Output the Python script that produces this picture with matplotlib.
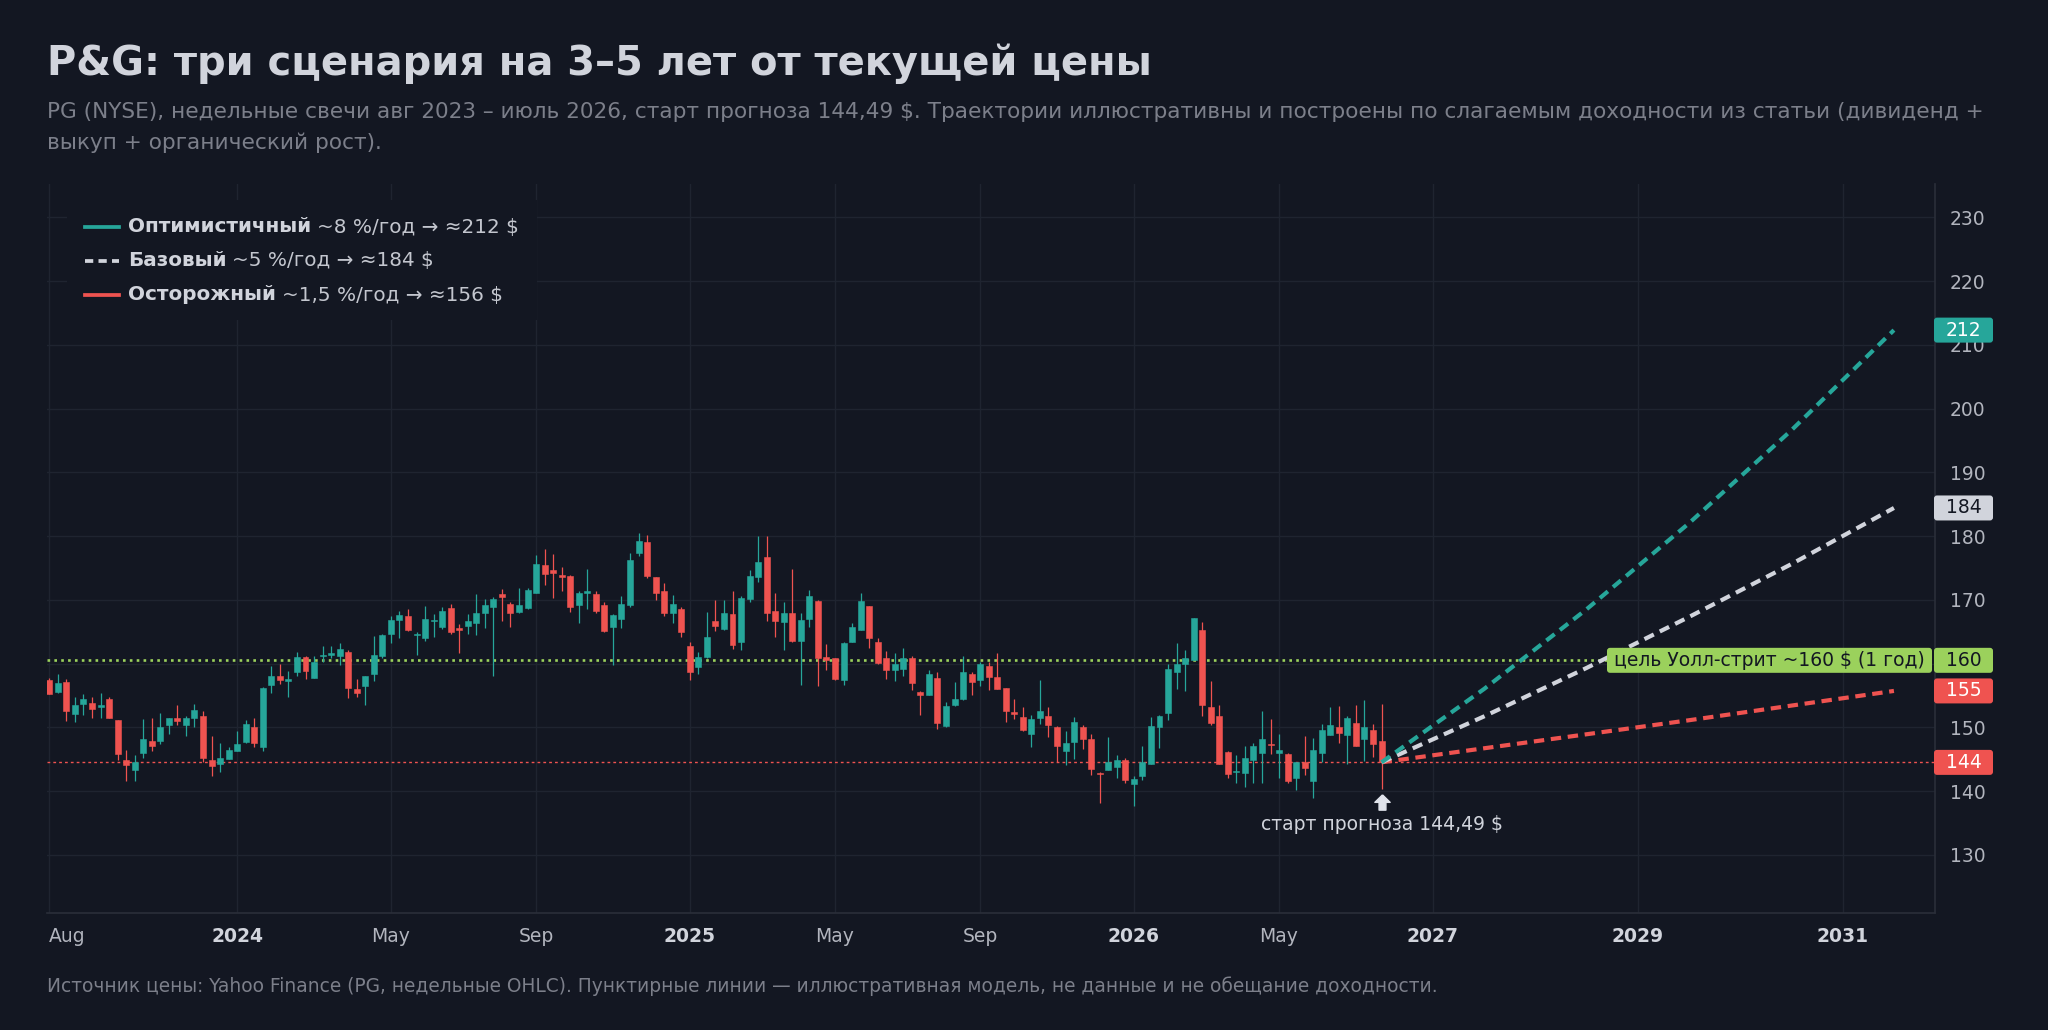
import matplotlib
matplotlib.use("Agg")
import matplotlib.pyplot as plt
import numpy as np
import pandas as pd
from matplotlib.patches import FancyBboxPatch, Rectangle
from matplotlib.transforms import IdentityTransform
from matplotlib.lines import Line2D

plt.rcParams['font.family'] = ['DejaVu Sans']

# ---------------- data ----------------
start_date = '2023-07-31'          # first weekly candle (Monday)
open_ = [157.4, 155.6, 157.1, 152.1, 153.7, 153.8, 153.2, 154.4, 151.2, 144.8,
         143.3, 145.9, 147.9, 147.9, 150.3, 151.5, 150.3, 151.5, 151.8, 144.8,
         144.2, 145.0, 146.3, 147.7, 150.1, 146.9, 156.6, 158.1, 157.3, 158.7,
         161.0, 157.7, 161.2, 161.4, 161.1, 161.8, 156.0, 156.4, 158.4, 161.1,
         164.7, 166.8, 167.5, 164.4, 164.0, 166.6, 165.8, 168.7, 165.6, 165.9,
         166.4, 167.9, 168.9, 170.9, 169.3, 168.1, 168.7, 171.0, 175.5, 174.6,
         173.9, 173.7, 169.1, 171.0, 170.9, 169.2, 165.7, 167.0, 169.1, 177.4,
         179.0, 173.6, 171.4, 168.0, 168.6, 162.8, 159.4, 161.0, 166.7, 165.4,
         167.7, 163.3, 170.1, 173.5, 176.7, 168.3, 166.5, 168.0, 163.6, 167.0,
         169.8, 161.0, 160.8, 157.4, 163.4, 165.2, 169.0, 163.4, 160.8, 159.0,
         159.2, 160.9, 155.6, 155.1, 157.7, 150.2, 153.5, 154.4, 158.4, 157.4,
         159.6, 157.9, 156.1, 152.4, 151.6, 149.0, 151.5, 151.7, 150.1, 146.3,
         147.7, 150.1, 148.1, 142.9, 143.3, 143.7, 144.9, 141.1, 142.3, 144.3,
         150.0, 152.3, 158.7, 159.9, 160.6, 165.3, 153.1, 151.8, 146.1, 143.0,
         142.9, 144.9, 145.9, 147.4, 146.0, 145.8, 142.1, 144.5, 141.6, 145.9,
         148.8, 150.1, 148.8, 150.6, 148.1, 149.6, 147.9]
high = [157.7, 158.4, 157.5, 154.7, 155.2, 154.8, 155.3, 154.7, 151.2, 146.4,
        145.7, 151.3, 151.4, 152.3, 151.5, 153.5, 151.8, 153.7, 152.6, 148.6,
        147.5, 146.9, 149.4, 151.2, 151.5, 156.3, 159.6, 159.9, 158.9, 161.8,
        161.1, 161.2, 162.8, 162.8, 163.2, 162.1, 157.6, 158.1, 164.3, 164.7,
        167.4, 168.3, 168.6, 164.9, 169.0, 167.8, 168.9, 169.3, 166.2, 167.7,
        170.9, 170.1, 170.5, 171.7, 169.6, 171.9, 171.8, 177.0, 177.9, 177.2,
        175.1, 173.9, 171.4, 174.9, 171.4, 169.6, 167.7, 170.6, 177.3, 180.4,
        180.2, 173.6, 172.7, 170.8, 168.9, 163.4, 161.8, 168.1, 169.9, 169.9,
        171.4, 170.6, 174.6, 180.0, 180.0, 171.0, 169.6, 174.8, 168.0, 171.6,
        169.9, 163.1, 160.9, 163.4, 166.4, 171.0, 169.0, 164.0, 162.0, 161.7,
        162.5, 161.1, 155.7, 159.0, 158.6, 154.0, 157.1, 161.1, 158.7, 160.3,
        160.3, 161.7, 156.1, 154.4, 153.1, 151.9, 157.4, 153.1, 150.2, 149.4,
        151.6, 150.3, 148.9, 143.0, 148.5, 145.7, 145.1, 142.4, 147.0, 151.6,
        151.9, 159.9, 163.2, 162.1, 167.2, 166.5, 157.2, 153.5, 146.2, 145.7,
        147.0, 147.5, 152.5, 151.3, 148.9, 145.9, 144.6, 148.6, 148.3, 150.5,
        153.1, 153.3, 151.7, 153.5, 154.3, 150.5, 153.7]
low = [155.2, 155.4, 151.0, 150.9, 151.9, 151.5, 151.5, 151.4, 144.9, 141.5,
       141.6, 145.2, 146.2, 147.4, 149.0, 150.4, 148.7, 150.0, 144.5, 142.4,
       143.0, 145.0, 146.3, 147.5, 146.9, 146.2, 155.3, 156.8, 154.8, 158.1,
       157.5, 157.7, 160.3, 160.9, 159.8, 154.6, 154.7, 153.5, 157.3, 160.8,
       163.2, 164.0, 165.1, 161.3, 163.6, 164.1, 165.4, 164.6, 161.7, 164.7,
       164.4, 165.5, 158.0, 166.6, 165.8, 168.0, 168.6, 171.0, 172.3, 170.3,
       171.4, 168.1, 166.3, 168.5, 168.0, 165.0, 159.8, 165.5, 168.8, 176.8,
       173.4, 169.9, 167.4, 166.3, 164.2, 157.4, 158.3, 160.8, 165.1, 165.2,
       162.2, 162.1, 169.7, 172.8, 166.6, 164.1, 162.1, 163.4, 156.6, 165.8,
       156.5, 159.0, 157.4, 156.6, 163.3, 165.2, 162.5, 159.9, 157.6, 157.2,
       158.1, 155.9, 151.9, 155.0, 149.8, 150.0, 153.3, 154.2, 155.0, 156.5,
       155.9, 156.0, 150.9, 151.3, 149.4, 146.9, 150.5, 148.4, 144.5, 144.1,
       145.0, 146.6, 142.5, 138.1, 143.3, 142.1, 141.2, 137.7, 141.7, 144.2,
       146.8, 151.2, 156.0, 155.7, 160.6, 151.8, 150.4, 144.2, 142.0, 141.3,
       140.7, 141.3, 141.3, 145.8, 142.1, 141.2, 140.1, 142.5, 138.9, 144.6,
       148.8, 147.6, 144.2, 147.0, 144.7, 145.4, 140.3]
close = [155.2, 157.0, 152.5, 153.5, 154.5, 152.9, 153.5, 151.5, 145.8, 144.1,
         144.6, 148.1, 147.1, 150.1, 151.4, 151.0, 151.4, 152.7, 145.1, 144.0,
         145.2, 146.5, 147.4, 150.5, 147.5, 156.1, 158.0, 157.4, 157.5, 161.0,
         158.8, 160.3, 161.4, 161.7, 162.2, 156.1, 155.3, 158.1, 161.3, 164.5,
         166.8, 167.6, 165.3, 164.6, 167.0, 166.9, 168.2, 164.9, 165.2, 166.6,
         167.9, 169.1, 170.1, 170.5, 167.9, 169.1, 171.5, 175.6, 174.0, 174.2,
         173.5, 168.9, 171.0, 171.3, 168.2, 165.1, 167.6, 169.4, 176.2, 179.2,
         173.7, 171.0, 168.0, 169.4, 165.0, 158.6, 161.0, 164.1, 165.9, 168.0,
         162.9, 170.2, 173.8, 175.9, 168.0, 166.7, 168.0, 163.6, 166.8, 170.6,
         160.9, 160.6, 157.6, 163.2, 165.8, 169.8, 164.0, 160.1, 159.0, 159.9,
         160.9, 157.0, 155.1, 158.3, 150.6, 153.4, 154.4, 158.7, 157.1, 160.0,
         157.9, 156.0, 152.6, 152.1, 149.6, 151.3, 152.5, 150.4, 147.1, 147.6,
         150.9, 148.2, 143.5, 142.7, 144.5, 144.8, 141.7, 141.9, 144.5, 150.2,
         151.8, 159.1, 160.0, 160.8, 167.2, 153.5, 150.6, 144.2, 142.7, 143.2,
         145.1, 147.0, 148.1, 147.2, 146.4, 141.6, 144.5, 143.6, 146.5, 149.6,
         150.4, 149.1, 151.4, 147.1, 150.1, 147.4, 144.49]

current_price = 144.49
street_target = 160.5
forecast_months = [0, 12, 24, 36, 48, 60]
opt_path = [144.5, 156.0, 168.5, 182.0, 196.6, 212.3]
base_path = [144.5, 151.7, 159.3, 167.3, 175.6, 184.4]
cautious_path = [144.5, 146.7, 148.9, 151.1, 153.4, 155.7]

hist_tick_dates = ['2023-08-01', '2024-01-01', '2024-05-01', '2024-09-01',
                   '2025-01-01', '2025-05-01', '2025-09-01', '2026-01-01', '2026-05-01']
hist_tick_labels = ['Aug', '2024', 'May', 'Sep', '2025', 'May', 'Sep', '2026', 'May']
fc_tick_months = [6, 30, 54]
fc_tick_labels = ['2027', '2029', '2031']
price_ticks = [130, 140, 150, 160, 170, 180, 190, 200, 210, 220, 230]

title = 'P&G: три сценария на 3–5 лет от текущей цены'
subtitle1 = ('PG (NYSE), недельные свечи авг 2023 – июль 2026, старт прогноза 144,49 $. '
             'Траектории иллюстративны и построены по слагаемым доходности из статьи (дивиденд +')
subtitle2 = 'выкуп + органический рост).'
footer = ('Источник цены: Yahoo Finance (PG, недельные OHLC). Пунктирные линии — '
          'иллюстративная модель, не данные и не обещание доходности.')
legend_rows = [('Оптимистичный', '~8 %/год → ≈212 $'),
               ('Базовый', '~5 %/год → ≈184 $'),
               ('Осторожный', '~1,5 %/год → ≈156 $')]
target_label = 'цель Уолл-стрит ~160 $ (1 год)'
start_label = 'старт прогноза 144,49 $'

# ---------------- style ----------------
BG = '#131722'
GRID = '#1f2430'
UP = '#26a69a'
DN = '#ef5350'
WHITE = '#d1d4dc'
GREEN = '#9bd15c'
MUTED = '#7c7f8a'
TICK = '#b2b5be'

W, H = 2048, 1030
fig = plt.figure(figsize=(W / 100, H / 100), dpi=100)
fig.patch.set_facecolor(BG)

ax_l, ax_r, ax_t, ax_b = 47, 1934.5, 184, 912.7
ax = fig.add_axes([ax_l / W, 1 - ax_b / H, (ax_r - ax_l) / W, (ax_b - ax_t) / H])
ax.set_facecolor(BG)

o = np.array(open_); h = np.array(high); l = np.array(low); c = np.array(close)
n = len(c)
xs = np.arange(n)
last = n - 1
dates = pd.date_range(start_date, periods=n, freq='W-MON')

cols = np.where(c >= o, UP, DN)
ax.vlines(xs, l, h, colors=cols, lw=0.9, zorder=3)
body_bot = np.minimum(o, c)
body_h = np.maximum(np.abs(c - o), 0.18)
ax.bar(xs, body_h, bottom=body_bot, width=0.70, color=cols, edgecolor=cols,
       lw=0.4, zorder=4)

# horizontal reference lines
ax.axhline(street_target, color=GREEN, lw=1.9, linestyle=(0, (1, 1.6)), zorder=2)
ax.axhline(current_price, color=DN, lw=1.0, linestyle=(0, (2, 2.2)), zorder=2)

# forecast paths
fx_ = last + np.array(forecast_months)
for path, colr in [(cautious_path, DN), (base_path, WHITE), (opt_path, UP)]:
    ax.plot(fx_, path, color=colr, lw=3.0, linestyle=(0, (2.5, 1.6)),
            zorder=5, solid_capstyle='butt')

# start marker + label
arrow = [(0, 1), (-1, 0.02), (-0.45, 0.02), (-0.45, -1), (0.45, -1), (0.45, 0.02),
         (1, 0.02), (0, 1)]
ax.plot([last], [138.2], marker=arrow, ms=11, color='#e0e3eb', mec='#e0e3eb',
        ls='none', zorder=6)
ax.text(last, 134.8, start_label, ha='center', va='center', fontsize=13.5,
        color=WHITE, zorder=6)

# axes limits
ax.set_xlim(-0.27, 220.75)
ax.set_ylim(120.91, 235.22)

# ticks
hist_pos = [int(np.searchsorted(dates.values, np.datetime64(d))) for d in hist_tick_dates]
hist_pos[0] = 0
tick_pos = hist_pos + [last + m for m in fc_tick_months]
tick_lab = hist_tick_labels + fc_tick_labels
ax.set_xticks(tick_pos)
ax.set_xticklabels(tick_lab)
for lab in ax.get_xticklabels():
    if lab.get_text().isdigit():
        lab.set_fontweight('bold')
        lab.set_color(WHITE)
    else:
        lab.set_color(TICK)
ax.get_xticklabels()[0].set_ha('left')
ax.tick_params(axis='x', length=0, pad=10, labelsize=13.5)

ax.yaxis.tick_right()
ax.set_yticks(price_ticks)
# the 160 level is fully covered by the target price box
ax.set_yticklabels(['' if p == 160 else str(p) for p in price_ticks])
ax.tick_params(axis='y', length=0, pad=11, labelsize=13.5, labelcolor=TICK)

ax.grid(True, color=GRID, lw=1.0)
ax.set_axisbelow(True)
for s in ['top', 'left']:
    ax.spines[s].set_visible(False)
for s in ['right', 'bottom']:
    ax.spines[s].set_color('#2a2e39')
    ax.spines[s].set_linewidth(1.2)

# legend background (covers the grid)
lg = Rectangle(((67 - ax_l) / (ax_r - ax_l), (ax_b - 320) / (ax_b - ax_t)),
               (537 - 67) / (ax_r - ax_l), (320 - 200) / (ax_b - ax_t),
               transform=ax.transAxes, facecolor=BG, edgecolor='none', zorder=1.5)
ax.add_patch(lg)

# ---------------- texts ----------------
def fxp(px):
    return px / W

def fyp(py):
    return 1 - py / H

fig.text(fxp(47), fyp(75), title, fontsize=28.85, fontweight='bold', color=WHITE,
         va='baseline', ha='left')
fig.text(fxp(47), fyp(118), subtitle1, fontsize=15.55, color=MUTED, va='baseline')
fig.text(fxp(47), fyp(149), subtitle2, fontsize=15.55, color=MUTED, va='baseline')
fig.text(fxp(47), fyp(991.7), footer, fontsize=13.4, color=MUTED, va='baseline')

renderer = fig.canvas.get_renderer()
leg_cols = [UP, WHITE, DN]
leg_styles = ['-', (0, (2.2, 1.4)), '-']
for i, ((bold, rest), colr, lsty) in enumerate(zip(legend_rows, leg_cols, leg_styles)):
    yy = 227 + 34 * i
    fig.add_artist(Line2D([fxp(85), fxp(119)], [fyp(yy), fyp(yy)], color=colr, lw=2.7,
                          linestyle=lsty, transform=fig.transFigure, zorder=10))
    t = fig.text(fxp(128), fyp(yy), bold, fontsize=14.4, fontweight='bold', color=WHITE,
                 va='center', ha='left', zorder=10)
    ext = t.get_window_extent(renderer)
    fig.text((ext.x1 + 6) / W, fyp(yy), rest, fontsize=14.4, color='#c3c6ce',
             va='center', ha='left', zorder=10)

# right-side value labels
def ypix(v):
    return ax.transData.transform((0, v))[1]

box_w, box_h = 59, 25
value_labels = [(opt_path[-1], UP, 'white'), (base_path[-1], WHITE, BG),
                (street_target, GREEN, BG), (cautious_path[-1], DN, 'white'),
                (current_price, DN, 'white')]
for v, fc, tc in value_labels:
    yc = ypix(v)
    fig.add_artist(FancyBboxPatch((1934, yc - box_h / 2), box_w, box_h,
                                  boxstyle='round,pad=0,rounding_size=3',
                                  transform=IdentityTransform(), facecolor=fc,
                                  edgecolor='none', zorder=20))
    fig.text(1963.5 / W, yc / H, f'{int(v)}', ha='center', va='center',
             fontsize=13.5, color=tc, zorder=21)

yc = ypix(street_target)
fig.add_artist(FancyBboxPatch((1607, yc - box_h / 2), 325, box_h,
                              boxstyle='round,pad=0,rounding_size=3',
                              transform=IdentityTransform(), facecolor=GREEN,
                              edgecolor='none', zorder=20))
fig.text(1769.5 / W, yc / H, target_label, ha='center', va='center', fontsize=13.5,
         color=BG, zorder=21)

fig.savefig('out.png', dpi=100, facecolor=BG)
